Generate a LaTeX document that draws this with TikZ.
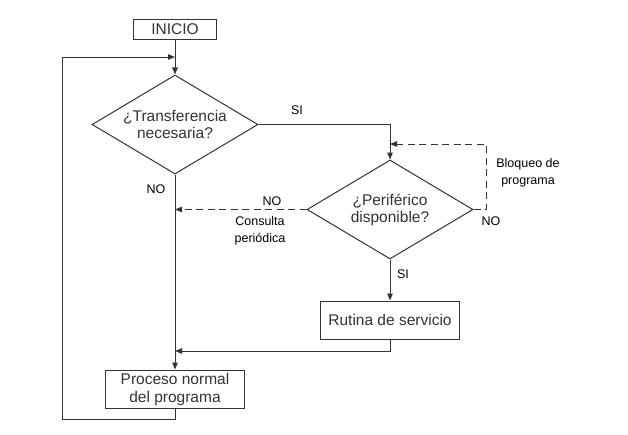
\documentclass[tikz,border=0pt]{standalone}
\usepackage{fontspec}
\setmainfont{Liberation Sans}
\usetikzlibrary{shapes.geometric,arrows.meta}

\begin{document}
\begin{tikzpicture}[x=1pt, y=-1pt,
    linea/.style={line width=1pt, black!80},
    flecha/.style={linea, -{Triangle[length=7pt,width=5.5pt]}},
    discont/.style={dash pattern=on 7pt off 4.5pt},
    caja/.style={draw, linea, inner sep=0pt, align=center, font=\fontsize{15.5}{18}\selectfont},
    decision/.style={draw, linea, diamond, aspect=1.667, inner sep=0pt, minimum width=166, minimum height=99, align=center, font=\fontsize{15.5}{17}\selectfont},
    etiq/.style={font=\fontsize{12.5}{17}\selectfont, align=center}]
    \useasboundingbox (0,0) rectangle (628,434);

    % cajas
    \node[caja, minimum width=83, minimum height=20] (inicio) at (175,29) {INICIO};
    \node[decision] (transf) at (175,124.5) {¿Transferencia\\necesaria?};
    \node[decision] (perif) at (390,209.5) {¿Periférico\\disponible?};
    \node[caja, minimum width=139, minimum height=38] (rutina) at (390,320) {Rutina de servicio};
    \node[caja, minimum width=139, minimum height=38] (proceso) at (175,389) {Proceso normal\\del programa};

    % puntos de union
    \coordinate (retorno) at (175,57);
    \coordinate (esquina) at (62,419);
    \coordinate (bloqueo) at (486,144);
    \coordinate (entrada) at (390,144);
    \coordinate (consulta) at (175,209.5);
    \coordinate (fin) at (175,351);

    % flujo principal
    \draw[flecha] (inicio) -- (transf);
    \draw[flecha] (transf) -- (proceso);
    \draw[flecha] (transf.east) -| (perif.north);
    \draw[flecha] (perif) -- (rutina);
    \draw[flecha] (rutina.south) |- (fin);
    \draw[flecha] (proceso.south) |- (esquina) |- (retorno);

    % esperas
    \draw[flecha, discont] (perif.west) -- (consulta);
    \draw[flecha, discont] (perif.east) -| (bloqueo) -- (entrada);

    % etiquetas
    \node[etiq] (si1) at (297,110) {SI};
    \node[etiq] (no1) at (156,189) {NO};
    \node[etiq] (no2) at (272,201) {NO};
    \node[etiq] (periodica) at (260,231) {Consulta\\periódica};
    \node[etiq] (bloq) at (528,173) {Bloqueo de\\programa};
    \node[etiq] (no3) at (491,221) {NO};
    \node[etiq] (si2) at (403,274) {SI};
\end{tikzpicture}
\end{document}
